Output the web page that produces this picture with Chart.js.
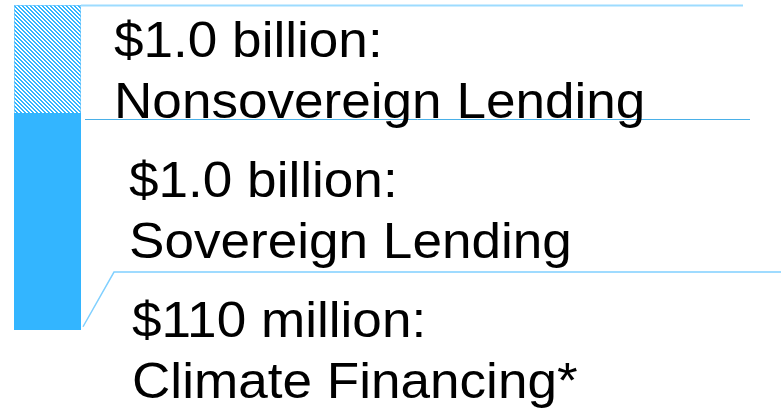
<!DOCTYPE html>
<html>
<head>
<meta charset="utf-8">
<script src="https://cdn.jsdelivr.net/npm/chart.js@4"></script>
<style>
  html, body { margin: 0; padding: 0; background: #fff; }
  #wrap { width: 781px; height: 413px; }
</style>
</head>
<body>
<div id="wrap"><canvas id="myChart" width="781" height="413"></canvas></div>
<script>
// bar segments, in bar units (solid part is about twice the hatched part)
const categories = ['Total'];
const sovereignBar = [2.0];
const nonsovereignBar = [1.0];

// label texts
const amountLabels = ['$1.0 billion:', '$1.0 billion:', '$110 million:'];
const nameLabels = ['Nonsovereign Lending', 'Sovereign Lending', 'Climate Financing*'];

// leader line levels, in bar units
const topLevel = 3.0;
const midLevel = 1.95;
const lowLevel = 0.535;
const lowFoot = 0.03;

function makeHatch() {
  const c = document.createElement('canvas');
  c.width = 4; c.height = 4;
  const g = c.getContext('2d');
  g.fillStyle = '#ffffff';
  g.fillRect(0, 0, 4, 4);
  g.fillStyle = '#33b5ff';
  for (let i = 0; i < 4; i++) {
    g.fillRect(i, i, 1, 1);
    g.fillRect((i + 1) % 4, i, 1, 1);
  }
  return g.createPattern(c, 'repeat');
}

const leaders = {
  id: 'leaders',
  afterDatasetsDraw(chart) {
    const ctx = chart.ctx;
    const y = chart.scales.y;
    const barRight = chart.chartArea.right;

    ctx.save();
    // top line
    ctx.strokeStyle = '#9ddcff';
    ctx.lineWidth = 2;
    ctx.beginPath();
    ctx.moveTo(barRight, y.getPixelForValue(topLevel) + 0.5);
    ctx.lineTo(743, y.getPixelForValue(topLevel) + 0.5);
    ctx.stroke();

    // middle line
    ctx.strokeStyle = '#4ab0e8';
    ctx.lineWidth = 1;
    ctx.beginPath();
    ctx.moveTo(barRight + 4, Math.round(y.getPixelForValue(midLevel)) + 0.5);
    ctx.lineTo(750, Math.round(y.getPixelForValue(midLevel)) + 0.5);
    ctx.stroke();

    // lower line with slanted foot
    ctx.strokeStyle = '#80d0ff';
    ctx.lineWidth = 1.5;
    ctx.beginPath();
    ctx.moveTo(barRight + 2, y.getPixelForValue(lowFoot));
    ctx.lineTo(barRight + 33, y.getPixelForValue(lowLevel));
    ctx.lineTo(781, y.getPixelForValue(lowLevel));
    ctx.stroke();

    // labels
    const xs = [114, 129, 132];
    const firstBase = [57, 197, 337];
    ctx.fillStyle = '#000';
    ctx.font = '50px "Liberation Sans", Arial, sans-serif';
    ctx.textBaseline = 'alphabetic';
    for (let i = 0; i < amountLabels.length; i++) {
      [amountLabels[i], nameLabels[i]].forEach((t, k) => {
        ctx.save();
        ctx.translate(xs[i], firstBase[i] + k * 61);
        ctx.scale(1.062, 1);
        ctx.fillText(t, 0, 0);
        ctx.restore();
      });
    }
    ctx.restore();
  }
};

const ctx = document.getElementById('myChart').getContext('2d');
const myChart = new Chart(ctx, {
  type: 'bar',
  data: {
    labels: categories,
    datasets: [{
      label: 'Sovereign',
      data: sovereignBar,
      backgroundColor: '#33b5ff',
      borderWidth: 0
    }, {
      label: 'Nonsovereign',
      data: nonsovereignBar,
      backgroundColor: makeHatch(),
      borderColor: '#6cc8ff',
      borderWidth: 1,
      borderSkipped: 'bottom'
    }]
  },
  options: {
    responsive: false,
    animation: false,
    layout: { padding: { left: 14, top: 5, right: 700, bottom: 83 } },
    datasets: { bar: { barPercentage: 1, categoryPercentage: 1 } },
    plugins: { legend: { display: false }, tooltip: { enabled: false } },
    scales: {
      x: { stacked: true, display: false },
      y: { stacked: true, display: false, min: 0, max: topLevel }
    }
  },
  plugins: [leaders]
});
</script>
</body>
</html>
